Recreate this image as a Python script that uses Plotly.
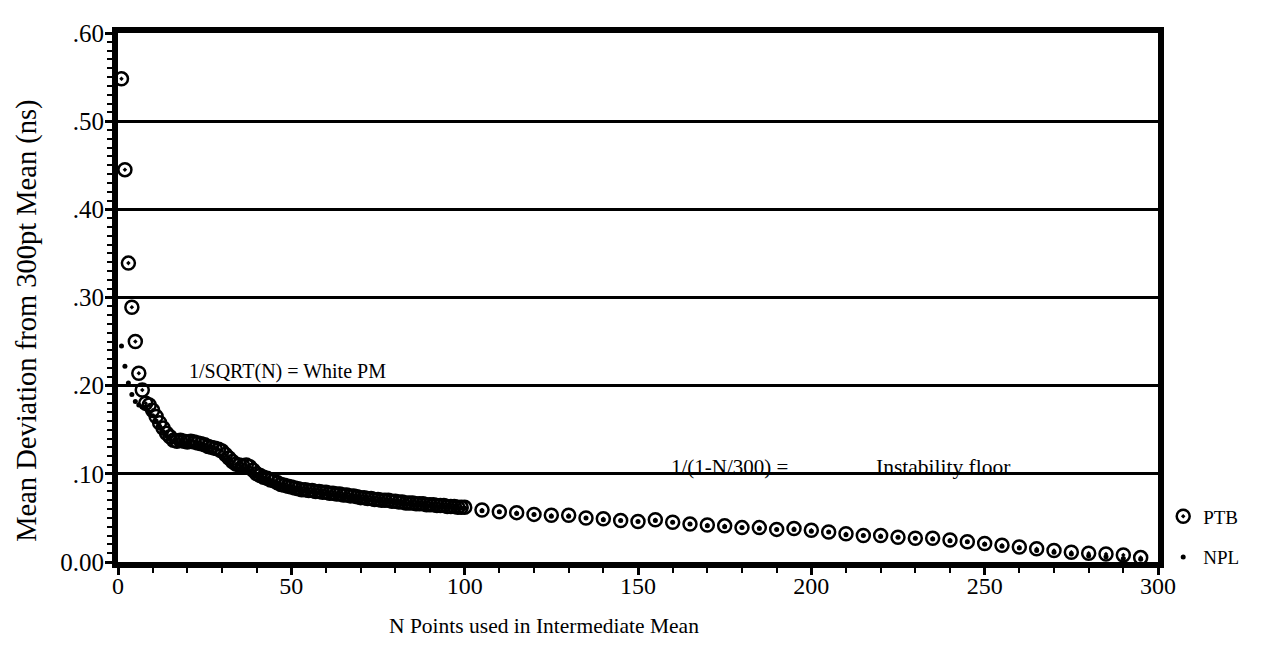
import plotly.graph_objects as go

# ---- data ----
n_dense = list(range(1, 101))
ptb_dense = [0.548, 0.445, 0.339, 0.289, 0.250, 0.214, 0.195, 0.180, 0.178, 0.172,
             0.165, 0.158, 0.152, 0.146, 0.142, 0.138, 0.137, 0.138, 0.137, 0.136,
             0.137, 0.136, 0.135, 0.134, 0.133, 0.131, 0.130, 0.129, 0.128, 0.126,
             0.122, 0.118, 0.114, 0.111, 0.110, 0.109, 0.110, 0.108, 0.104, 0.100,
             0.098, 0.096, 0.095, 0.093, 0.092, 0.090, 0.088, 0.087, 0.086, 0.085,
             0.084, 0.083, 0.082, 0.082, 0.081, 0.081, 0.080, 0.080, 0.079, 0.079,
             0.078, 0.078, 0.077, 0.077, 0.076, 0.076, 0.075, 0.075, 0.074, 0.073,
             0.073, 0.072, 0.072, 0.071, 0.071, 0.070, 0.070, 0.070, 0.069, 0.069,
             0.068, 0.068, 0.067, 0.067, 0.067, 0.066, 0.066, 0.066, 0.065, 0.065,
             0.065, 0.064, 0.064, 0.064, 0.063, 0.063, 0.063, 0.062, 0.062, 0.062]
npl_dense = [0.245, 0.222, 0.203, 0.190, 0.182, 0.178, 0.176, 0.176, 0.170, 0.166,
             0.160, 0.154, 0.148, 0.143, 0.139, 0.136, 0.134, 0.133, 0.133, 0.132,
             0.131, 0.131, 0.130, 0.129, 0.128, 0.127, 0.125, 0.123, 0.121, 0.119,
             0.116, 0.113, 0.110, 0.107, 0.106, 0.106, 0.105, 0.103, 0.100, 0.097,
             0.095, 0.093, 0.092, 0.090, 0.089, 0.087, 0.086, 0.085, 0.084, 0.083,
             0.082, 0.081, 0.080, 0.080, 0.079, 0.079, 0.078, 0.078, 0.077, 0.077,
             0.076, 0.076, 0.075, 0.075, 0.074, 0.074, 0.073, 0.073, 0.072, 0.072,
             0.071, 0.071, 0.070, 0.070, 0.069, 0.069, 0.068, 0.068, 0.068, 0.067,
             0.067, 0.066, 0.066, 0.066, 0.065, 0.065, 0.065, 0.064, 0.064, 0.064,
             0.063, 0.063, 0.063, 0.062, 0.062, 0.062, 0.061, 0.061, 0.061, 0.061]

n_sparse = list(range(105, 300, 5))
ptb_sparse = [0.059, 0.057, 0.056, 0.054, 0.053, 0.053, 0.050, 0.049, 0.047, 0.046,
              0.048, 0.045, 0.043, 0.042, 0.041, 0.039, 0.039, 0.037, 0.038, 0.036,
              0.034, 0.032, 0.030, 0.030, 0.028, 0.027, 0.027, 0.025, 0.023, 0.021,
              0.019, 0.017, 0.015, 0.013, 0.011, 0.010, 0.009, 0.008, 0.005]
npl_sparse = [0.058, 0.057, 0.055, 0.054, 0.052, 0.052, 0.050, 0.048, 0.047, 0.046,
              0.047, 0.045, 0.043, 0.041, 0.040, 0.039, 0.038, 0.037, 0.037, 0.035,
              0.034, 0.031, 0.030, 0.029, 0.028, 0.027, 0.026, 0.024, 0.023, 0.020,
              0.018, 0.016, 0.013, 0.011, 0.009, 0.007, 0.006, 0.004, 0.003]

x_ptb = n_dense + n_sparse
y_ptb = ptb_dense + ptb_sparse
x_npl = n_dense + n_sparse
y_npl = npl_dense + npl_sparse

y_tickvals = [0.0, 0.1, 0.2, 0.3, 0.4, 0.5, 0.6]
y_ticktext = ["0.00", ".10", ".20", ".30", ".40", ".50", ".60"]
x_tickvals = [0, 50, 100, 150, 200, 250, 300]

FONT = "Liberation Serif, Times New Roman, serif"

fig = go.Figure()
fig.add_trace(go.Scatter(
    x=x_ptb, y=y_ptb, mode="markers", name="PTB",
    legendgroup="ptb",
    marker=dict(symbol="circle-open-dot", size=13, color="black",
                line=dict(width=2.5, color="black")),
))
fig.add_trace(go.Scatter(
    x=x_npl, y=y_npl, mode="markers", name="NPL",
    legendgroup="npl",
    marker=dict(symbol="circle", size=5, color="black"),
))

fig.add_annotation(x=48.8, y=0.216, text="1/SQRT(N) = White PM", showarrow=False,
                   font=dict(family=FONT, size=20, color="black"))
fig.add_annotation(x=176.5, y=0.108, text="1/(1-N/300) =", showarrow=False,
                   font=dict(family=FONT, size=21, color="black"))
fig.add_annotation(x=238, y=0.108, text="Instability floor", showarrow=False,
                   font=dict(family=FONT, size=21.5, color="black"))

# axis titles placed as annotations (offset positions as in the original)
fig.add_annotation(xref="paper", yref="paper", x=0.41, y=-0.121,
                   yanchor="middle", xanchor="center", showarrow=False,
                   text="N Points used in Intermediate Mean",
                   font=dict(family=FONT, size=21.5, color="black"))
fig.add_annotation(xref="paper", yref="paper", x=-0.087, y=0.455,
                   xanchor="center", yanchor="middle", showarrow=False,
                   textangle=-90,
                   text="Mean Deviation from 300pt Mean (ns)",
                   font=dict(family=FONT, size=28.5, color="black"))

fig.update_layout(
    width=1263, height=653,
    margin=dict(l=110, r=113, t=16, b=99),
    paper_bgcolor="white", plot_bgcolor="white",
    font=dict(family=FONT, color="black"),
    showlegend=True,
    legend=dict(x=1.005, y=0.122, xanchor="left", yanchor="top",
                font=dict(family=FONT, size=19, color="black"),
                traceorder="grouped", tracegroupgap=13,
                bgcolor="rgba(0,0,0,0)", itemwidth=30),
    xaxis=dict(
        range=[0, 300], tickvals=x_tickvals,
        tickfont=dict(family=FONT, size=24, color="black"),
        showgrid=False, zeroline=False,
        showline=True, linewidth=6, linecolor="black", mirror=True,
        ticks="outside", ticklen=7, tickwidth=3, tickcolor="black",
        ticklabelstandoff=-10,
        minor=dict(dtick=10, ticks="outside", ticklen=5, tickwidth=2, tickcolor="black"),
    ),
    yaxis=dict(
        range=[0, 0.6], tickvals=y_tickvals, ticktext=y_ticktext,
        tickfont=dict(family=FONT, size=25, color="black"),
        showgrid=True, gridcolor="black", gridwidth=2.5, zeroline=False,
        showline=True, linewidth=6, linecolor="black", mirror=True,
        ticks="outside", ticklen=7, tickwidth=3, tickcolor="black",
        ticklabelstandoff=-4,
        minor=dict(dtick=0.01, ticks="outside", ticklen=5, tickwidth=2,
                   tickcolor="black", showgrid=False),
    ),
)

fig.write_html("out.html")
